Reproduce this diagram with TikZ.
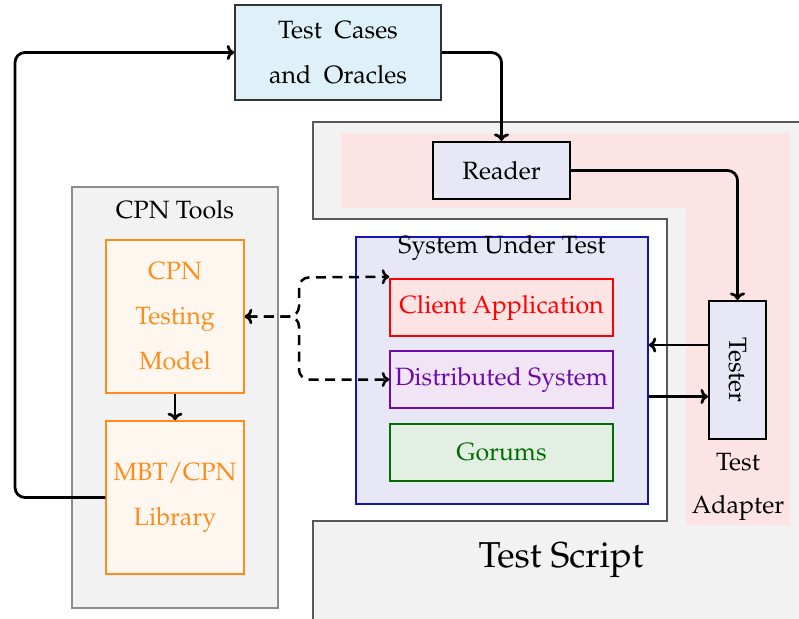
\documentclass[tikz,border=0pt]{standalone}
\usepackage[T1]{fontenc}
\usepackage{mathpazo}
\usepackage{graphicx}
\usetikzlibrary{arrows.meta,calc}

\definecolor{casefill}{RGB}{223,241,248}
\definecolor{lavender}{RGB}{231,231,246}
\definecolor{panelgray}{RGB}{242,242,242}
\definecolor{adaptpink}{RGB}{253,228,228}
\definecolor{cpnorange}{RGB}{255,140,26}
\definecolor{cpnfill}{RGB}{254,247,240}
\definecolor{sutblue}{RGB}{20,20,190}
\definecolor{clientred}{RGB}{255,0,0}
\definecolor{clientfill}{RGB}{253,228,228}
\definecolor{distpurple}{RGB}{108,10,170}
\definecolor{distfill}{RGB}{240,228,245}
\definecolor{gorgreen}{RGB}{0,110,0}
\definecolor{gorfill}{RGB}{228,239,228}

\tikzset{
  box/.style={draw, inner sep=0pt, align=center, font=\linespread{1.5}\selectfont},
  blackbox/.style={box, fill=lavender, line width=0.8pt},
  cpnbox/.style={box, draw=cpnorange, fill=cpnfill, text=cpnorange, line width=0.6pt,
                 minimum width=55.2pt, minimum height=61.2pt},
  subbox/.style={box, line width=0.6pt, minimum width=89.2pt, minimum height=22.8pt},
  arr/.style={line width=1.1pt, -{To[length=3pt,width=6pt]}, rounded corners=4pt},
  darr/.style={line width=1pt, dash pattern=on 4pt off 2.6pt, {To[length=3pt,width=6pt]}-{To[length=3pt,width=6pt]}, rounded corners=4pt},
  lbl/.style={inner sep=0pt}
}

\begin{document}
\begin{tikzpicture}[x=0.4pt,y=-0.4pt]
\useasboundingbox (0,0) rectangle (799,619);

% Test Script frame with the notch that holds the system under test
\filldraw[fill=panelgray, draw=black!65, line width=0.5pt]
  (313,122) -- (810,122) -- (810,630) -- (313,630) -- (313,521)
  -- (667,521) -- (667,219) -- (313,219) -- cycle;

% Test Adapter region
\fill[adaptpink] (341,133) -- (790,133) -- (790,525) -- (686,525)
  -- (686,208) -- (341,208) -- cycle;

% CPN Tools panel
\node[draw=black!45, fill=panelgray, line width=0.6pt, minimum width=82.4pt,
      minimum height=168.4pt, inner sep=0pt] (tools) at (175,397.5) {};
\node[lbl] (toolslbl) at (175,210) {CPN Tools};

\node[cpnbox] (cpn) at (175,316.5) {CPN\\Testing\\Model};
\node[cpnbox] (mbt) at (175,497.5) {MBT/CPN\\Library};

% Test cases and oracles
\node[box, fill=casefill, draw=black!80, line width=0.6pt, minimum width=82.4pt,
      minimum height=38pt] (tc) at (338,52.5) {Test\enspace Cases\\and\enspace Oracles};

% Reader and Tester
\node[blackbox, minimum width=54.8pt, minimum height=22.8pt] (reader) at (501.5,170.5) {Reader};
\node[blackbox, minimum width=22.8pt, minimum height=55.2pt] (tester) at (737.5,370)
  {\rotatebox{-90}{Tester}};
\node[lbl] (testlbl) at (738,462) {Test};
\node[lbl] (adaptlbl) at (738,508) {Adapter};

% System under test
\node[draw=sutblue, fill=lavender, line width=0.6pt, minimum width=116.8pt,
      minimum height=106.8pt, inner sep=0pt] (sut) at (502,370.5) {};
\node[lbl] (sutlbl) at (502,248) {System Under Test};
\node[subbox, draw=clientred, fill=clientfill, text=clientred] (ca) at (501.5,307.5) {Client Application};
\node[subbox, draw=distpurple, fill=distfill, text=distpurple] (ds) at (501.5,379.5) {Distributed System};
\node[subbox, draw=gorgreen, fill=gorfill, text=gorgreen] (gor) at (501.5,452.5) {Gorums};

\node[lbl, font=\Large] (scriptlbl) at (561,560) {Test Script};

% Connectors
\coordinate (lc) at (15,52.5);
\draw[arr] (mbt.west) -| (lc) -- (tc.west);
\draw[arr] (tc.east) -| (reader.north);
\draw[arr] (reader.east) -| (tester.north);
\draw[arr] (cpn.south) -- (mbt.north);
\draw[arr] ([yshift=10pt]tester.west) -- ([yshift=10pt]tester.west -| sut.east);
\draw[arr] ([yshift=-10.6pt]tester.west -| sut.east) -- ([yshift=-10.6pt]tester.west);

\coordinate (ju) at (299,277.5);
\coordinate (jd) at (299,379.5);
\draw[darr] (cpn.east) -| (ju) -- ([yshift=0.6pt]ca.north west);
\draw[darr] (cpn.east) -| (jd) -- (ds.west);
\end{tikzpicture}
\end{document}
